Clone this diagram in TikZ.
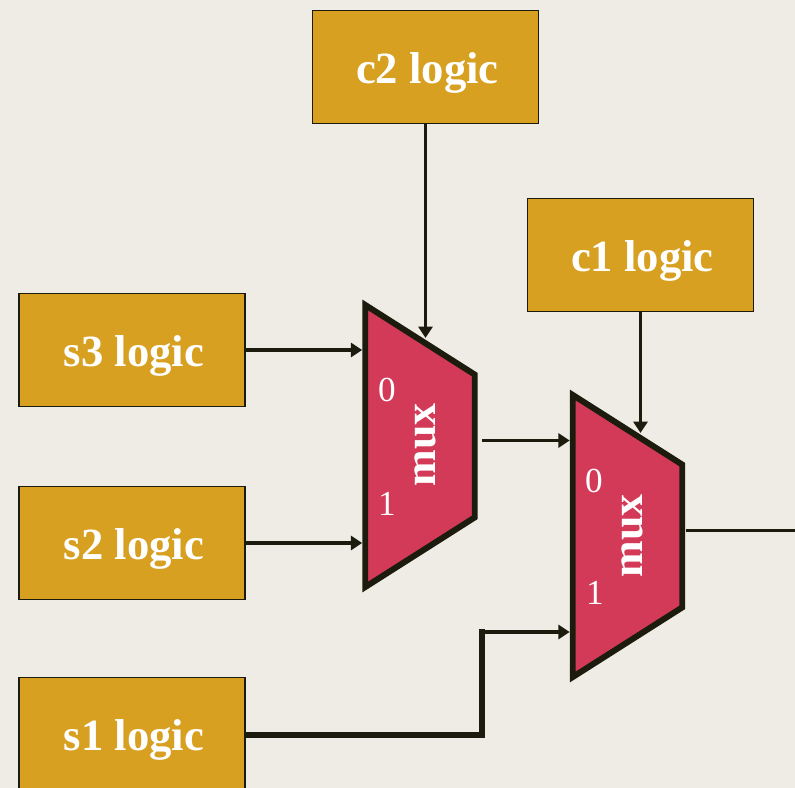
\documentclass[tikz,border=0pt]{standalone}
\usepackage{fontspec}
\setmainfont{Liberation Serif}
\usetikzlibrary{arrows.meta,calc,shapes.geometric}
\definecolor{slidebg}{HTML}{EEECE4}
\definecolor{logicgold}{HTML}{D7A021}
\definecolor{muxred}{HTML}{D33A58}
\definecolor{wireblack}{HTML}{1C1C0E}
\tikzset{
	logicbox/.style={draw=wireblack, line width=0.7pt, fill=logicgold, text=white, minimum width=4.52cm, minimum height=2.26cm, text height=24pt, text depth=5.2pt, execute at begin node={\hspace*{2.2pt}}, font=\fontsize{25.4}{30}\selectfont\bfseries},
	muxbox/.style={draw=wireblack, line width=3.4pt, fill=muxred, trapezium, shape border rotate=270, trapezium angle=64, trapezium stretches=true, minimum width=5.64cm, minimum height=2.19cm, inner sep=1pt},
	muxname/.style={text=white, rotate=90, font=\fontsize{25}{30}\selectfont\bfseries},
	muxinput/.style={text=white, font=\fontsize{20}{24}\selectfont},
	wire/.style={draw=wireblack, line width=2.2pt},
	arrowwire/.style={wire, -{Triangle[length=6.5pt,width=8pt]}}
}
\begin{document}
\begin{tikzpicture}
	\clip (0,0) rectangle (15.9,15.76);
	\fill[slidebg] (0,0) rectangle (15.9,15.76);
	
	% logic blocks
	\node[logicbox] (c2) at (8.51,14.42) {c2 logic};
	\node[logicbox] (c1) at (12.81,10.66) {c1 logic};
	\node[logicbox] (s3) at (2.64,8.76) {s3 logic};
	\node[logicbox] (s2) at (2.64,4.9) {s2 logic};
	\node[logicbox] (s1) at (2.64,1.08) {s1 logic};
	
	% the two muxes
	\node[muxbox] (mux1) at (8.4,6.84) {};
	\node[muxbox] (mux2) at (12.55,5.04) {};
	\node[muxname] (mux1name) at (8.5,6.86) {mux};
	\node[muxname] (mux2name) at (12.64,5.04) {mux};
	\node[muxinput] (mux1zero) at (7.74,7.96) {0};
	\node[muxinput] (mux1one) at (7.74,5.68) {1};
	\node[muxinput] (mux2zero) at (11.88,6.14) {0};
	\node[muxinput] (mux2one) at (11.9,3.9) {1};
	
	% free wire ends
	\coordinate (c2end) at (8.51,9.0);
	\coordinate (c1end) at (12.81,7.1);
	\coordinate (mux1out) at (9.64,6.95);
	\coordinate (mux2out) at (13.72,5.15);
	\coordinate (outend) at (15.9,5.15);
	\coordinate (s1bend) at (9.64,1.06);
	\coordinate (s1top) at (9.64,3.12);
	
	\draw[arrowwire] (c2.south) -- (c2end);
	\draw[arrowwire] (c1.south) -- (c1end);
	\draw[arrowwire] (s3.east) -- (s3.east -| mux1.180);
	\draw[arrowwire] (s2.east) -- (s2.east -| mux1.180);
	\draw[arrowwire] (mux1out) -- (mux1out -| mux2.180);
	\draw[wire] (mux2out) -- (outend);
	\draw[wire, line width=3pt, line cap=rect, shorten <=1.5pt] (s1.east |- s1bend) -- (s1bend) -- (s1top);
	\draw[arrowwire] (s1top) -- (s1top -| mux2.180);
\end{tikzpicture}
\end{document}
